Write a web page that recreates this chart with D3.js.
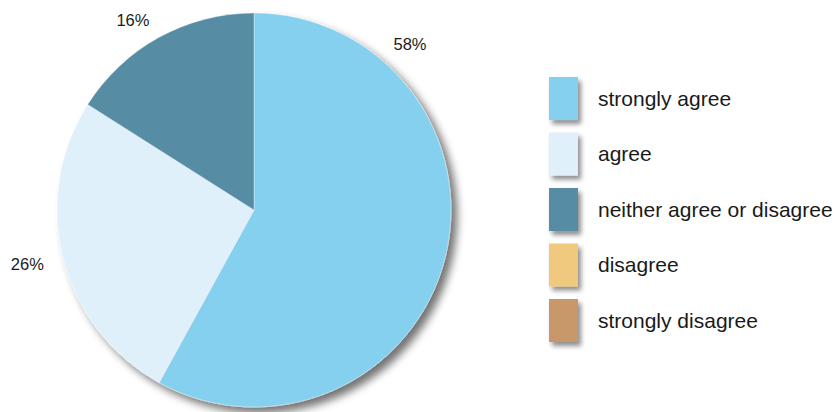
<!DOCTYPE html>
<html><head><meta charset="utf-8">
<script src="https://cdn.jsdelivr.net/npm/d3@7"></script>
<style>html,body{margin:0;padding:0;background:#fff;}svg{display:block;}</style>
</head><body>
<svg id="chart" width="838" height="412"></svg>
<script>
const categories = ["strongly agree","agree","neither agree or disagree","disagree","strongly disagree"];
const values = [58, 26, 16, 0, 0];
const colors = ["#85cfef","#dff0fa","#578ca4","#f0c87e","#c8976b"];

const svg = d3.select("#chart");
const defs = svg.append("defs");
const f = defs.append("filter").attr("id","shadow").attr("x","-20%").attr("y","-20%").attr("width","140%").attr("height","140%");
f.append("feGaussianBlur").attr("in","SourceAlpha").attr("stdDeviation",4).attr("result","b");
f.append("feOffset").attr("in","b").attr("dx",6).attr("dy",6).attr("result","o");
f.append("feComponentTransfer").attr("in","o").attr("result","oa").append("feFuncA").attr("type","linear").attr("slope",0.55);
const m = f.append("feMerge"); m.append("feMergeNode").attr("in","oa"); m.append("feMergeNode").attr("in","SourceGraphic");
const f2 = defs.append("filter").attr("id","shadow2").attr("x","-50%").attr("y","-50%").attr("width","200%").attr("height","200%");
f2.append("feGaussianBlur").attr("in","SourceAlpha").attr("stdDeviation",2.5).attr("result","b");
f2.append("feOffset").attr("in","b").attr("dx",3).attr("dy",4).attr("result","o");
f2.append("feComponentTransfer").attr("in","o").attr("result","oa").append("feFuncA").attr("type","linear").attr("slope",0.45);
const m2 = f2.append("feMerge"); m2.append("feMergeNode").attr("in","oa"); m2.append("feMergeNode").attr("in","SourceGraphic");

const cx = 254, cy = 210, R = 197;
const data = categories.map((c,i)=>({cat:c, value:values[i], color:colors[i]}));
const pie = d3.pie().sort(null).value(d=>d.value);
const arcs = pie(data).filter(a=>a.data.value>0);
const arc = d3.arc().innerRadius(0).outerRadius(R);

const g = svg.append("g").attr("transform",`translate(${cx},${cy})`);
g.append("g").attr("filter","url(#shadow)")
  .selectAll("path").data(arcs).join("path")
  .attr("d",arc).attr("fill",d=>d.data.color)
  .attr("stroke","#ffffff").attr("stroke-width",0.6).attr("stroke-opacity",0.6);

const total = d3.sum(values);
const LR = 217;
const labelAngle = d => {
  const span = d.endAngle - d.startAngle;
  return span > Math.PI ? d.startAngle + 40*Math.PI/180 : d.startAngle + span/2;
};
g.selectAll("text.lbl").data(arcs).join("text").attr("class","lbl")
  .attr("transform",d=>{
    const a = labelAngle(d);
    return `translate(${LR*Math.sin(a)},${-LR*Math.cos(a)})`;
  })
  .attr("text-anchor",d=>Math.sin(labelAngle(d))>=0?"start":"end")
  .attr("dominant-baseline","central")
  .attr("font-family","'Liberation Sans', Arial, Helvetica, sans-serif")
  .attr("font-size",16.5).attr("fill","#1a1a1a")
  .text(d=>Math.round(d.data.value/total*100)+"%");

const y = d3.scaleBand().domain(categories).range([77, 342]).paddingInner(0.225).paddingOuter(0);
const lg = svg.append("g");
const items = lg.selectAll("g").data(data).join("g").attr("transform",d=>`translate(549,${y(d.cat)})`);
items.append("rect").attr("width",29).attr("height",y.bandwidth()).attr("fill",d=>d.color).attr("filter","url(#shadow2)");
items.append("text").attr("x",49).attr("y",y.bandwidth()/2).attr("dominant-baseline","central")
  .attr("font-family","'Liberation Sans', Arial, Helvetica, sans-serif").attr("font-size",21).attr("fill","#1a1a1a")
  .text(d=>d.cat);
</script>
</body></html>
